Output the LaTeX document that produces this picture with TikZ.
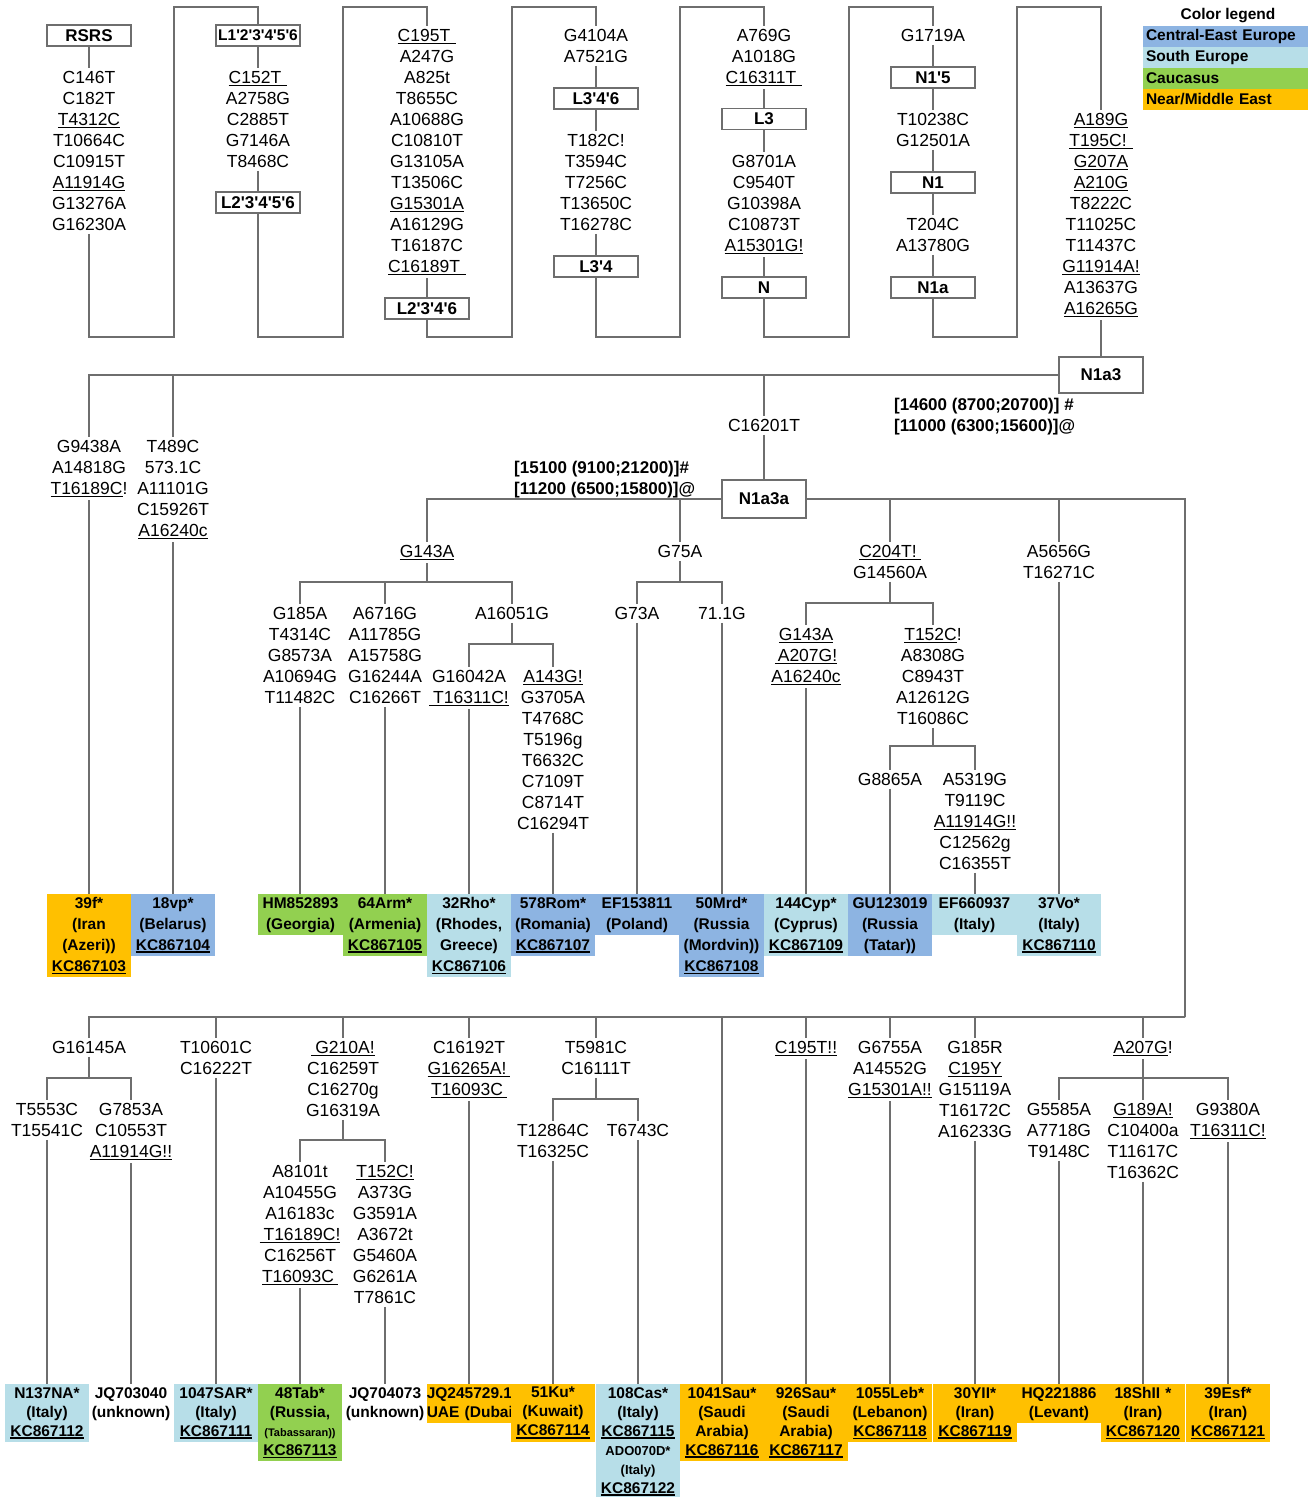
\documentclass[tikz,border=0pt]{standalone}
\usepackage{fontspec}
\setmainfont{Liberation Sans}
\definecolor{ceblue}{HTML}{8DB4E2}
\definecolor{seblue}{HTML}{B7DEE8}
\definecolor{cagreen}{HTML}{92D050}
\definecolor{neorange}{HTML}{FFC000}
\definecolor{lgray}{HTML}{6E6E6E}
\newcommand\mutfont{\fontsize{17.5}{21}\selectfont}
\newcommand\hapfont{\fontsize{17}{21}\selectfont\bfseries}
\newcommand\leaffont{\fontsize{15.5}{21}\selectfont\bfseries}
\newcommand\leaffontb{\fontsize{15.5}{19}\selectfont\bfseries}
\newcommand\legfont{\fontsize{15.5}{19}\selectfont\bfseries}
\newcommand\sq{\XeTeXglyph\XeTeXcharglyph"0027\relax}
\newcommand\ulm[1]{\leavevmode\setbox0\hbox{#1}\rlap{\rule[-2.6pt]{\wd0}{1pt}}\box0}
\newcommand\ulk[1]{\leavevmode\setbox0\hbox{#1}\rlap{\rule[-2.9pt]{\wd0}{1.5pt}}\box0}
\tikzset{
  conn/.style={draw=lgray, line width=1.1pt},
  mut/.style={font=\mutfont, align=center, anchor=north, yshift=9pt, inner sep=3pt},
  hap/.style={draw=lgray, line width=1.1pt, font=\hapfont, minimum width=84pt, minimum height=21pt, inner sep=0pt},
  leaf/.style={font=\leaffont, align=center, anchor=north, text width=84.4pt, inner xsep=0pt, inner ysep=3pt},
  leafb/.style={leaf, font=\leaffontb},
  datelbl/.style={font=\hapfont, align=left, anchor=north west, inner sep=0pt, yshift=6pt},
  leg/.style={font=\legfont, text width=159pt, inner xsep=3pt, inner ysep=0pt, minimum height=21pt, align=left},
}
\begin{document}
\begin{tikzpicture}[x=1pt,y=-1pt]
\useasboundingbox[fill=white] (0,0) rectangle (1308,1497);

% ---------- legend ----------
\node[font=\legfont] (legt) at (1228,16) {Color legend};
\node[leg, fill=ceblue] (leg1) at (1225.5,36.5) {Central-East Europe};
\node[leg, fill=seblue] (leg2) at (1225.5,57.5) {South Europe};
\node[leg, fill=cagreen] (leg3) at (1225.5,78.5) {Caucasus};
\node[leg, fill=neorange] (leg4) at (1225.5,99.5) {Near/Middle East};

% ---------- top serpentine ----------
\node[hap] (rsrs) at (89,35.5) {RSRS};
\node[mut] (m1) at (89,77) {C146T\\C182T\\\ulm{T4312C}\\T10664C\\C10915T\\\ulm{A11914G}\\G13276A\\G16230A};
\node[hap, font=\fontsize{15.5}{21}\selectfont\bfseries] (l1) at (258,35.5) {L1\sq2\sq3\sq4\sq5\sq6};
\node[mut] (m2) at (258,77) {\ulm{C152T\hspace{6pt}}\\A2758G\\C2885T\\G7146A\\T8468C};
\node[hap] (l2) at (258,202.5) {L2\sq3\sq4\sq5\sq6};
\node[mut] (m3) at (427,35) {\ulm{C195T\hspace{6pt}}\\A247G\\A825t\\T8655C\\A10688G\\C10810T\\G13105A\\T13506C\\\ulm{G15301A}\\A16129G\\T16187C\\\ulm{C16189T\hspace{6pt}}};
\node[hap] (l2346) at (427,308.5) {L2\sq3\sq4\sq6};
\node[mut] (m4a) at (596,35) {G4104A\\A7521G};
\node[hap] (l346) at (596,98.5) {L3\sq4\sq6};
\node[mut] (m4b) at (596,140) {T182C!\\T3594C\\T7256C\\T13650C\\T16278C};
\node[hap] (l34) at (596,266.5) {L3\sq4};
\node[mut] (m5a) at (764,35) {A769G\\A1018G\\\ulm{C16311T\hspace{6pt}}};
\node[hap] (l3) at (764,119) {L3};
\node[mut] (m5b) at (764,161) {G8701A\\C9540T\\G10398A\\C10873T\\\ulm{A15301G!}};
\node[hap] (nN) at (764,287.5) {N};
\node[mut] (m6a) at (933,35) {G1719A};
\node[hap] (n15) at (933,77.5) {N1\sq5};
\node[mut] (m6b) at (933,119) {T10238C\\G12501A};
\node[hap] (n1) at (933,182.5) {N1};
\node[mut] (m6c) at (933,224) {T204C\\A13780G};
\node[hap] (n1a) at (933,287.5) {N1a};
\node[mut] (m7) at (1101,119) {\ulm{A189G}\\\ulm{T195C!\hspace{6pt}}\\\ulm{G207A}\\\ulm{A210G}\\T8222C\\T11025C\\T11437C\\\ulm{G11914A!}\\A13637G\\\ulm{A16265G}};
\node[hap, minimum height=36pt] (n1a3) at (1101,375) {N1a3};

\coordinate (b1) at (89,337);  \coordinate (j12) at (174,7);
\coordinate (b2) at (258,337); \coordinate (j23) at (343,7);
\coordinate (b3) at (427,337); \coordinate (j34) at (512,7);
\coordinate (b4) at (596,337); \coordinate (j45) at (680,7);
\coordinate (b5) at (764,337); \coordinate (j56) at (849,7);
\coordinate (b6) at (933,337); \coordinate (j67) at (1017,7);

\draw[conn] (rsrs) -- (m1);
\draw[conn] (m1) -- (b1) -| (j12) -| (l1);
\draw[conn] (l1) -- (m2);
\draw[conn] (m2) -- (l2);
\draw[conn] (l2) -- (b2) -| (j23) -| (m3);
\draw[conn] (m3) -- (l2346);
\draw[conn] (l2346) -- (b3) -| (j34) -| (m4a);
\draw[conn] (m4a) -- (l346);
\draw[conn] (l346) -- (m4b);
\draw[conn] (m4b) -- (l34);
\draw[conn] (l34) -- (b4) -| (j45) -| (m5a);
\draw[conn] (m5a) -- (l3);
\draw[conn] (l3) -- (m5b);
\draw[conn] (m5b) -- (nN);
\draw[conn] (nN) -- (b5) -| (j56) -| (m6a);
\draw[conn] (m6a) -- (n15);
\draw[conn] (n15) -- (m6b);
\draw[conn] (m6b) -- (n1);
\draw[conn] (n1) -- (m6c);
\draw[conn] (m6c) -- (n1a);
\draw[conn] (n1a) -- (b6) -| (j67) -| (m7);
\draw[conn] (m7) -- (n1a3);

% ---------- middle ----------
\node[mut] (mA) at (89,446) {G9438A\\A14818G\\\ulm{T16189C}!};
\node[mut] (mB) at (173,446) {T489C\\573.1C\\A11101G\\C15926T\\\ulm{A16240c}};
\node[mut] (mC) at (764,425) {C16201T};
\node[datelbl] (d1) at (894,404) {[14600 (8700;20700)] \#\\\relax[11000 (6300;15600)]@};
\node[datelbl] (d2) at (514,467) {[15100 (9100;21200)]\#\\\relax[11200 (6500;15800)]@};
\node[hap, minimum height=38pt] (n1a3a) at (764,499) {N1a3a};

\draw[conn] (n1a3) -| (mA);
\draw[conn] (n1a3) -| (mB);
\draw[conn] (n1a3) -| (mC);
\draw[conn] (mC) -- (n1a3a);

\node[mut] (mG143A) at (427,551) {\ulm{G143A}};
\node[mut] (mG185A) at (300,613) {G185A\\T4314C\\G8573A\\A10694G\\T11482C};
\node[mut] (mA6716G) at (385,613) {A6716G\\A11785G\\A15758G\\G16244A\\C16266T};
\node[mut] (mA16051G) at (512,613) {A16051G};
\node[mut] (mG16042A) at (469,676) {G16042A\\\ulm{\hspace{4pt}T16311C!}};
\node[mut] (mA143G) at (553,676) {\ulm{A143G!}\\G3705A\\T4768C\\T5196g\\T6632C\\C7109T\\C8714T\\C16294T};
\node[mut] (mG75A) at (680,551) {G75A};
\node[mut] (mG73A) at (637,613) {G73A};
\node[mut] (m711G) at (722,613) {71.1G};
\node[mut] (mC204T) at (890,551) {\ulm{C204T!\hspace{4pt}}\\G14560A};
\node[mut] (mG143Ab) at (806,634) {\ulm{G143A}\\\ulm{\hspace{3pt}A207G!}\\\ulm{A16240c}};
\node[mut] (mT152C) at (933,634) {\ulm{T152C}!\\A8308G\\C8943T\\A12612G\\T16086C};
\node[mut] (mG8865A) at (890,779) {G8865A};
\node[mut] (mA5319G) at (975,779) {A5319G\\T9119C\\\ulm{A11914G!!}\\C12562g\\C16355T};
\node[mut] (mA5656G) at (1059,551) {A5656G\\T16271C};

\coordinate (k1) at (427,582);
\coordinate (k2) at (512,644);
\coordinate (k3) at (680,582);
\coordinate (k4) at (890,603);
\coordinate (k5) at (933,746);
\coordinate (rt) at (1185,499);
\coordinate (rb) at (1185,1017);

\draw[conn] (n1a3a) -| (mG143A);
\draw[conn] (n1a3a) -| (mG75A);
\draw[conn] (n1a3a) -| (mC204T);
\draw[conn] (n1a3a) -| (mA5656G);
\draw[conn] (n1a3a) -- (rt) -- (rb);
\draw[conn] (mG143A) -- (k1);
\draw[conn] (k1) -| (mG185A);
\draw[conn] (k1) -| (mA6716G);
\draw[conn] (k1) -| (mA16051G);
\draw[conn] (mA16051G) -- (k2);
\draw[conn] (k2) -| (mG16042A);
\draw[conn] (k2) -| (mA143G);
\draw[conn] (mG75A) -- (k3);
\draw[conn] (k3) -| (mG73A);
\draw[conn] (k3) -| (m711G);
\draw[conn] (mC204T) -- (k4);
\draw[conn] (k4) -| (mG143Ab);
\draw[conn] (k4) -| (mT152C);
\draw[conn] (mT152C) -- (k5);
\draw[conn] (k5) -| (mG8865A);
\draw[conn] (k5) -| (mA5319G);

% ---------- first row of samples ----------
\node[leaf, fill=neorange] (L1) at (89,894) {39f*\\(Iran\\(Azeri))\\\ulk{KC867103}};
\node[leaf, fill=ceblue] (L2) at (173,894) {18vp*\\(Belarus)\\\ulk{KC867104}};
\node[leaf, fill=cagreen] (L3) at (300.5,894) {HM852893\\(Georgia)};
\node[leaf, fill=cagreen] (L4) at (385,894) {64Arm*\\(Armenia)\\\ulk{KC867105}};
\node[leaf, fill=seblue] (L5) at (469,894) {32Rho*\\(Rhodes,\\Greece)\\\ulk{KC867106}};
\node[leaf, fill=ceblue] (L6) at (553,894) {578Rom*\\(Romania)\\\ulk{KC867107}};
\node[leaf, fill=ceblue] (L7) at (637,894) {EF153811\\(Poland)};
\node[leaf, fill=ceblue] (L8) at (721.5,894) {50Mrd*\\(Russia\\(Mordvin))\\\ulk{KC867108}};
\node[leaf, fill=seblue] (L9) at (806,894) {144Cyp*\\(Cyprus)\\\ulk{KC867109}};
\node[leaf, fill=ceblue] (L10) at (890,894) {GU123019\\(Russia\\(Tatar))};
\node[leaf, fill=seblue] (L11) at (974.5,894) {EF660937\\(Italy)};
\node[leaf, fill=seblue] (L12) at (1059,894) {37Vo*\\(Italy)\\\ulk{KC867110}};

\draw[conn] (mA) -- (L1.north -| mA);
\draw[conn] (mB) -- (L2);
\draw[conn] (mG185A) -- (L3.north -| mG185A);
\draw[conn] (mA6716G) -- (L4);
\draw[conn] (mG16042A) -- (L5);
\draw[conn] (mA143G) -- (L6);
\draw[conn] (mG73A) -- (L7);
\draw[conn] (m711G) -- (L8.north -| m711G);
\draw[conn] (mG143Ab) -- (L9);
\draw[conn] (mG8865A) -- (L10);
\draw[conn] (mA5319G) -- (L11.north -| mA5319G);
\draw[conn] (mA5656G) -- (L12);

% ---------- lower tree ----------
\node[mut] (mG16145A) at (89,1047) {G16145A};
\node[mut] (mT5553C) at (47,1109) {T5553C\\T15541C};
\node[mut] (mG7853A) at (131,1109) {G7853A\\C10553T\\\ulm{A11914G!!}};
\node[mut] (mT10601C) at (216,1047) {T10601C\\C16222T};
\node[mut] (mG210A) at (343,1047) {\ulm{\hspace{4pt}G210A!}\\C16259T\\C16270g\\G16319A};
\node[mut] (mA8101t) at (300,1171) {A8101t\\A10455G\\A16183c\\\ulm{\hspace{4pt}T16189C!}\\C16256T\\\ulm{T16093C\hspace{4pt}}};
\node[mut] (mT152Cb) at (385,1171) {\ulm{T152C!}\\A373G\\G3591A\\A3672t\\G5460A\\G6261A\\T7861C};
\node[mut] (mC16192T) at (469,1047) {C16192T\\\ulm{G16265A!\hspace{4pt}}\\\ulm{T16093C\hspace{4pt}}};
\node[mut] (mT5981C) at (596,1047) {T5981C\\C16111T};
\node[mut] (mT12864C) at (553,1130) {T12864C\\T16325C};
\node[mut] (mT6743C) at (638,1130) {T6743C};
\node[mut] (mC195T) at (806,1047) {\ulm{C195T!!}};
\node[mut] (mG6755A) at (890,1047) {G6755A\\A14552G\\\ulm{G15301A!!}};
\node[mut] (mG185R) at (975,1047) {G185R\\\ulm{C195Y}\\G15119A\\T16172C\\A16233G};
\node[mut] (mA207G) at (1143,1047) {\ulm{A207G}!};
\node[mut] (mG5585A) at (1059,1109) {G5585A\\A7718G\\T9148C};
\node[mut] (mG189A) at (1143,1109) {\ulm{G189A!}\\C10400a\\T11617C\\T16362C};
\node[mut] (mG9380A) at (1228,1109) {G9380A\\\ulm{T16311C!}};

\coordinate (k6) at (89,1078);
\coordinate (k7) at (343,1140);
\coordinate (k8) at (596,1099);
\coordinate (k9) at (1143,1078);

\draw[conn] (rb) -| (mG16145A);
\draw[conn] (rb) -| (mT10601C);
\draw[conn] (rb) -| (mG210A);
\draw[conn] (rb) -| (mC16192T);
\draw[conn] (rb) -| (mT5981C);
\draw[conn] (rb) -| (mC195T);
\draw[conn] (rb) -| (mG6755A);
\draw[conn] (rb) -| (mG185R);
\draw[conn] (rb) -| (mA207G);
\draw[conn] (mG16145A) -- (k6);
\draw[conn] (k6) -| (mT5553C);
\draw[conn] (k6) -| (mG7853A);
\draw[conn] (mG210A) -- (k7);
\draw[conn] (k7) -| (mA8101t);
\draw[conn] (k7) -| (mT152Cb);
\draw[conn] (mT5981C) -- (k8);
\draw[conn] (k8) -| (mT12864C);
\draw[conn] (k8) -| (mT6743C);
\draw[conn] (mA207G) -- (k9);
\draw[conn] (k9) -| (mG5585A);
\draw[conn] (k9) -| (mG189A);
\draw[conn] (k9) -| (mG9380A);

% ---------- second row of samples ----------
\node[leafb, fill=seblue] (B1) at (47,1384) {N137NA*\\(Italy)\\\ulk{KC867112}};
\node[leafb] (B2) at (131,1384) {JQ703040\\(unknown)};
\node[leafb, fill=seblue] (B3) at (216,1384) {1047SAR*\\(Italy)\\\ulk{KC867111}};
\node[leafb, fill=cagreen] (B4) at (300,1384) {48Tab*\\(Russia,\\{\fontsize{11}{19}\selectfont (Tabassaran))}\\\ulk{KC867113}};
\node[leafb] (B5) at (385,1384) {JQ704073\\(unknown)};
\node[leafb, fill=neorange, align=left] (B6) at (469,1384) {\mbox{JQ245729.1}\\\mbox{UAE (Dubai)}};
\node[leafb, fill=neorange] (B7) at (553,1384) {51Ku*\\(Kuwait)\\\ulk{KC867114}};
\node[leafb, fill=seblue] (B8) at (638,1384) {108Cas*\\(Italy)\\\ulk{KC867115}\\{\fontsize{13}{19}\selectfont ADO070D*}\\{\fontsize{13}{19}\selectfont (Italy)}\\\ulk{KC867122}};
\node[leafb, fill=neorange] (B9) at (722,1384) {1041Sau*\\(Saudi\\Arabia)\\\ulk{KC867116}};
\node[leafb, fill=neorange] (B10) at (806,1384) {926Sau*\\(Saudi\\Arabia)\\\ulk{KC867117}};
\node[leafb, fill=neorange] (B11) at (890,1384) {1055Leb*\\(Lebanon)\\\ulk{KC867118}};
\node[leafb, fill=neorange] (B12) at (975,1384) {30YII*\\(Iran)\\\ulk{KC867119}};
\node[leafb, fill=neorange] (B13) at (1059,1384) {HQ221886\\(Levant)};
\node[leafb, fill=neorange] (B14) at (1143,1384) {18ShII *\\(Iran)\\\ulk{KC867120}};
\node[leafb, fill=neorange] (B15) at (1228,1384) {39Esf*\\(Iran)\\\ulk{KC867121}};

\draw[conn] (mT5553C) -- (B1);
\draw[conn] (mG7853A) -- (B2);
\draw[conn] (mT10601C) -- (B3);
\draw[conn] (mA8101t) -- (B4);
\draw[conn] (mT152Cb) -- (B5);
\draw[conn] (mC16192T) -- (B6);
\draw[conn] (mT12864C) -- (B7);
\draw[conn] (mT6743C) -- (B8);
\draw[conn] (rb) -| (B9);
\draw[conn] (mC195T) -- (B10);
\draw[conn] (mG6755A) -- (B11);
\draw[conn] (mG185R) -- (B12);
\draw[conn] (mG5585A) -- (B13);
\draw[conn] (mG189A) -- (B14);
\draw[conn] (mG9380A) -- (B15);
\end{tikzpicture}
\end{document}
